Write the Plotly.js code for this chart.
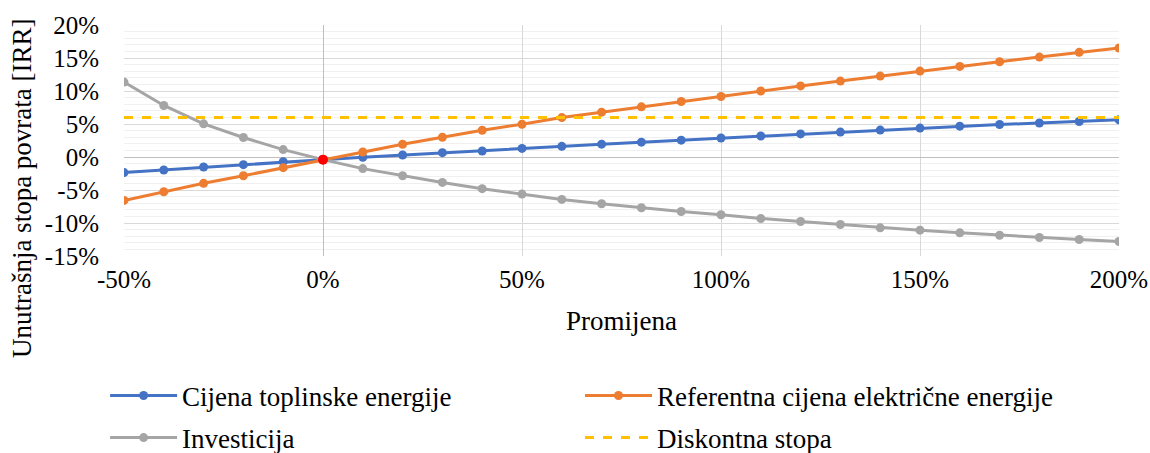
<!DOCTYPE html>
<html><head><meta charset="utf-8">
<script src="https://cdn.plot.ly/plotly-3.0.1.min.js"></script>
<style>body{margin:0;background:#fff}#chart{width:1150px;height:453px}
#chart text{font-family:'Liberation Serif','Times New Roman',Tinos,serif !important}</style>
</head><body><div id="chart"></div>
<script>
const promjena = [-50,-40,-30,-20,-10,0,10,20,30,40,50,60,70,80,90,100,110,120,130,140,150,160,170,180,190,200];
const cijenaToplinske = [-2.36,-1.97,-1.52,-1.16,-0.71,-0.40,-0.05,0.30,0.66,0.91,1.30,1.62,1.95,2.25,2.55,2.88,3.18,3.50,3.77,4.08,4.38,4.67,4.92,5.15,5.38,5.65];
const referentnaCijena = [-6.58,-5.27,-3.99,-2.84,-1.62,-0.40,0.76,1.93,2.99,4.05,4.97,5.97,6.79,7.60,8.41,9.17,10.00,10.77,11.50,12.26,13.02,13.73,14.43,15.14,15.86,16.51];
const investicija = [11.35,7.81,5.02,2.95,1.12,-0.40,-1.76,-2.84,-3.85,-4.80,-5.62,-6.43,-7.08,-7.69,-8.25,-8.75,-9.32,-9.77,-10.23,-10.73,-11.09,-11.49,-11.85,-12.20,-12.50,-12.80];
const diskontX = [-50, 200];
const diskontnaStopa = [6, 6];
const baznaX = [0];
const baznaY = [-0.40];
const xTickVals = [-50,0,50,100,150,200];
const xTickText = ['-50%','0%','50%','100%','150%','200%'];
const yTickVals = [20,15,10,5,0,-5,-10,-15];
const yTickText = ['20%','15%','10%','5%','0%','-5%','-10%','-15%'];

const FAM = 'Times New Roman';
const traces = [
  {x: promjena, y: cijenaToplinske, name: 'Cijena toplinske energije', mode: 'lines+markers',
   line: {color: '#4472C4', width: 3}, marker: {color: '#4472C4', size: 9}, legend: 'legend'},
  {x: promjena, y: referentnaCijena, name: 'Referentna cijena električne energije', mode: 'lines+markers',
   line: {color: '#ED7D31', width: 3}, marker: {color: '#ED7D31', size: 9}, legend: 'legend2'},
  {x: promjena, y: investicija, name: 'Investicija', mode: 'lines+markers',
   line: {color: '#A5A5A5', width: 3}, marker: {color: '#A5A5A5', size: 9}, legend: 'legend3'},
  {x: diskontX, y: diskontnaStopa, name: 'Diskontna stopa', mode: 'lines',
   line: {color: '#FFC000', width: 3, dash: 'dash'}, legend: 'legend4'},
  {x: baznaX, y: baznaY, mode: 'markers', showlegend: false,
   marker: {color: '#FF0000', size: 10}}
];
const legBase = {orientation: 'v', xanchor: 'left', yanchor: 'middle',
  yref: 'container', font: {family: FAM, size: 27, color: '#000'}, itemwidth: 67, bgcolor: 'rgba(0,0,0,0)'};
const layout = {
  width: 1150, height: 453,
  margin: {l: 124, r: 31, t: 25, b: 197},
  paper_bgcolor: '#fff', plot_bgcolor: '#fff',
  font: {family: FAM, size: 25, color: '#000'},
  xaxis: {range: [-50, 200], tickvals: xTickVals, ticktext: xTickText, showgrid: true, gridcolor: '#d9d9d9', gridwidth: 1,
    zeroline: true, zerolinecolor: '#bfbfbf', zerolinewidth: 1, showline: false, ticks: '', ticklabelstandoff: 6,
    automargin: false, tickfont: {family: FAM, size: 25, color: '#000'},
    title: {text: 'Promijena', font: {family: FAM, size: 27, color: '#000'}, standoff: 19}},
  yaxis: {range: [-15, 20], tickvals: yTickVals, ticktext: yTickText, showgrid: true, gridcolor: '#d9d9d9', gridwidth: 1,
    zeroline: true, zerolinecolor: '#bfbfbf', zerolinewidth: 1, showline: false, ticks: '', ticklabelstandoff: 24,
    automargin: false, tickfont: {family: FAM, size: 25, color: '#000'},
    minor: {dtick: 1, showgrid: true, gridcolor: '#f0f0f0', gridwidth: 1}},
  annotations: [{text: 'Unutrašnja stopa povrata [IRR]', textangle: -90, xref: 'paper', yref: 'paper',
    x: -0.1025, y: 0.294, xanchor: 'center', yanchor: 'middle', showarrow: false, font: {family: FAM, size: 27, color: '#000'}}],
  legend: Object.assign({}, legBase, {x: -0.019, y: 0.126}),
  legend2: Object.assign({}, legBase, {x: 0.4583, y: 0.126}),
  legend3: Object.assign({}, legBase, {x: -0.019, y: 0.033}),
  legend4: Object.assign({}, legBase, {x: 0.4583, y: 0.033}),
  showlegend: true
};
Plotly.newPlot('chart', traces, layout, {displayModeBar: false, staticPlot: true});
</script></body></html>
